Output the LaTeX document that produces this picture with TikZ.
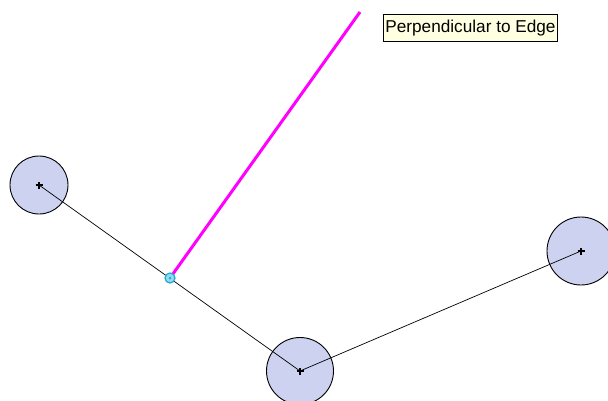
\documentclass[tikz,border=0pt]{standalone}
\usepackage{fontspec}
\setmainfont{Liberation Sans}
\definecolor{vfill}{RGB}{205,210,240}
\definecolor{mag}{RGB}{255,0,255}
\definecolor{mkdraw}{RGB}{40,170,210}
\definecolor{mkfill}{RGB}{150,220,240}
\definecolor{tipfill}{RGB}{255,255,225}
\begin{document}
\begin{tikzpicture}[x=1pt,y=-1pt,
  vertex/.style={circle,draw=black,line width=0.9pt,fill=vfill,minimum size=#1,inner sep=0pt},
  edge/.style={draw=black,line width=0.7pt},
  crossmark/.style={line width=2pt,black}]
\useasboundingbox (0,0) rectangle (608,400);
\node[vertex=58pt] (A) at (39,185) {};
\node[vertex=67pt] (B) at (300,371) {};
\node[vertex=68pt] (C) at (581,251) {};
\coordinate (P) at (170,278);
\coordinate (Q) at (360,12);
\draw[edge] (A.center) -- (B.center) -- (C.center);
\foreach \n in {A,B,C}{
  \draw[crossmark] ([xshift=-3.5pt]\n.center) -- ([xshift=3.5pt]\n.center);
  \draw[crossmark] ([yshift=-3.5pt]\n.center) -- ([yshift=3.5pt]\n.center);
}
\draw[line width=3pt,mag] (P) -- (Q);
\node[circle,draw=mkdraw,line width=1.3pt,fill=mkfill,minimum size=10pt,inner sep=0pt] (M) at (P) {};
\node[circle,fill=mkdraw,minimum size=3pt,inner sep=0pt] (Mc) at (P) {};
\node[draw=black,line width=0.8pt,fill=tipfill,inner xsep=2pt,inner ysep=1pt,font=\fontsize{17.2}{18}\selectfont,anchor=north west,minimum height=27pt] (T) at (383,14) {Perpendicular to Edge};
\end{tikzpicture}
\end{document}
